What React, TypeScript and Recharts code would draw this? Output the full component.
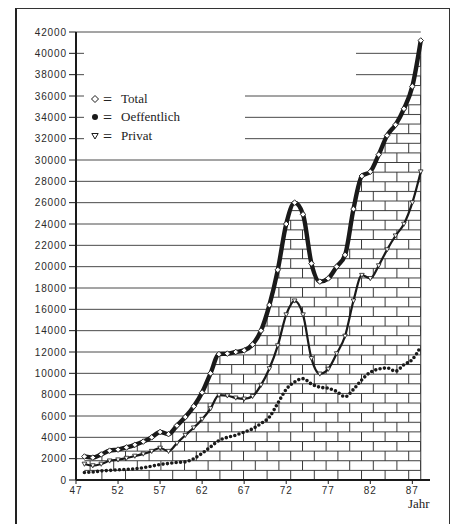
import React from 'react';
import {
  ComposedChart,
  Area,
  Line,
  XAxis,
  YAxis,
  CartesianGrid,
  ReferenceLine,
} from 'recharts';

// Jahre 1948-1988
const YEARS = [
  48, 49, 50, 51, 52, 53, 54, 55, 56, 57,
  58, 59, 60, 61, 62, 63, 64, 65, 66, 67,
  68, 69, 70, 71, 72, 73, 74, 75, 76, 77,
  78, 79, 80, 81, 82, 83, 84, 85, 86, 87, 88,
];

const TOTAL = [
  2200, 2100, 2400, 2750, 2850, 3050, 3300, 3600, 4000, 4500,
  4300, 5100, 5900, 6900, 8200, 10000, 11800, 11850, 12000, 12150,
  12700, 14000, 16400, 19700, 24000, 26000, 24900, 20300, 18600, 18900,
  20000, 21100, 25400, 28500, 28900, 30500, 32300, 33300, 34800, 36900, 41200,
];

const OEFF = [
  700, 750, 850, 900, 950, 1000, 1050, 1150, 1300, 1450,
  1550, 1650, 1700, 2000, 2500, 3100, 3700, 4000, 4200, 4500,
  4800, 5300, 5900, 7200, 8500, 9200, 9500, 9000, 8700, 8600,
  8300, 7800, 8500, 9400, 10100, 10400, 10500, 10200, 10800, 11300, 12500,
];

const PRIVAT = [
  1500, 1350, 1500, 1800, 1900, 2050, 2250, 2450, 2700, 3000,
  2700, 3450, 4200, 4900, 5700, 6700, 7950, 7900, 7700, 7600,
  7850, 8900, 10450, 12600, 15500, 16800, 15500, 11400, 9950, 10400,
  11850, 13500, 16800, 19200, 18900, 20100, 21600, 22900, 24000, 26000, 28900,
];

const X_TICKS = [47, 52, 57, 62, 67, 72, 77, 82, 87];
const Y_TICKS = [
  0, 2000, 4000, 6000, 8000, 10000, 12000, 14000, 16000, 18000, 20000,
  22000, 24000, 26000, 28000, 30000, 32000, 34000, 36000, 38000, 40000, 42000,
];
const SERIES_NAMES = ['Total', 'Oeffentlich', 'Privat'];
const X_LABEL = 'Jahr';

const X_MIN = 47;
const X_MAX = 89.1;
const Y_MAX = 42000;

const data = YEARS.map((year, i) => ({
  year,
  total: TOTAL[i],
  oeff: OEFF[i],
  privat: PRIVAT[i],
}));

const lastYear = YEARS[YEARS.length - 1];
const lastTotal = TOTAL[TOTAL.length - 1];

const ink = '#1a1a1a';
const gridInk = '#4a4a4a';
const numFont = { fontFamily: 'Liberation Sans, Arial, sans-serif', fontSize: 10, fill: '#2a2a2a', letterSpacing: 0.9 };
const serif = 'Liberation Serif, Times New Roman, serif';

const Diamond = (props: any) => {
  const { cx, cy, index } = props;
  if (cx == null || cy == null) return <g key={`d${index}`} />;
  const s = 2.8;
  return (
    <path
      key={`d${index}`}
      d={`M${cx},${cy - s}L${cx + s},${cy}L${cx},${cy + s}L${cx - s},${cy}Z`}
      fill="#fff"
      stroke={ink}
      strokeWidth={0.9}
    />
  );
};

const Tri = (props: any) => {
  const { cx, cy, index } = props;
  if (cx == null || cy == null) return <g key={`t${index}`} />;
  const s = 2.3;
  return (
    <path
      key={`t${index}`}
      d={`M${cx - s},${cy - s * 0.8}L${cx + s},${cy - s * 0.8}L${cx},${cy + s}Z`}
      fill="#fff"
      stroke={ink}
      strokeWidth={0.8}
    />
  );
};

// grid lines stop at the last year, like in the print
const gridLine = (p: any) => {
  const xEnd = p.x1 + ((p.x2 - p.x1) * (lastYear - X_MIN)) / (X_MAX - X_MIN);
  return (
    <line
      key={`g${p.index}`}
      x1={p.x1}
      y1={p.y1}
      x2={xEnd}
      y2={p.y2}
      stroke={gridInk}
      strokeWidth={1}
    />
  );
};

function LegendMark({ kind }: { kind: number }) {
  return (
    <svg width={10} height={10} style={{ position: 'absolute', left: 90, top: 3 }}>
      {kind === 0 && <path d="M5,1.5L8.5,5L5,8.5L1.5,5Z" fill="#fff" stroke={ink} strokeWidth={1} />}
      {kind === 1 && <circle cx={5} cy={5} r={3} fill={ink} />}
      {kind === 2 && <path d="M1.8,2.5L8.2,2.5L5,8Z" fill="#fff" stroke={ink} strokeWidth={1} />}
    </svg>
  );
}

export default function App() {
  const rowCenters = [99, 117, 136];
  return (
    <div style={{ position: 'absolute', left: 0, top: 0, width: 456, height: 524, background: '#fff', overflow: 'hidden' }}>
      {/* outer frame */}
      <div
        style={{
          position: 'absolute',
          left: 15,
          top: 8,
          width: 432,
          height: 540,
          borderLeft: '2px solid #222',
          borderTop: '1.5px solid #333',
          borderRight: '1.5px solid #333',
        }}
      />
      <div style={{ position: 'absolute', left: 0, top: 0 }}>
        <ComposedChart width={456} height={524} data={data} margin={{ top: 32, right: 26, bottom: 14, left: 16 }}>
          <defs>
            <pattern id="bricks" patternUnits="userSpaceOnUse" x={7} y={17.74} width={23.6} height={19.24}>
              <rect width={23.6} height={19.24} fill="#fff" />
              <line x1={0} y1={0.5} x2={23.6} y2={0.5} stroke="#3a3a3a" strokeWidth={1} />
              <line x1={0} y1={10.1} x2={23.6} y2={10.1} stroke="#3a3a3a" strokeWidth={1} />
              <line x1={12.3} y1={0} x2={12.3} y2={9.62} stroke="#3a3a3a" strokeWidth={1} />
              <line x1={0.5} y1={9.62} x2={0.5} y2={19.24} stroke="#3a3a3a" strokeWidth={1} />
            </pattern>
          </defs>
          <CartesianGrid vertical={false} horizontal={gridLine} />
          <XAxis
            dataKey="year"
            type="number"
            domain={[X_MIN, X_MAX]}
            ticks={X_TICKS}
            interval={0}
            allowDataOverflow
            height={30}
            tickSize={4}
            tickMargin={3}
            axisLine={{ stroke: ink, strokeWidth: 2 }}
            tickLine={{ stroke: ink }}
            tick={numFont}
          />
          <XAxis
            xAxisId="t"
            orientation="top"
            type="number"
            domain={[X_MIN, X_MAX]}
            height={0}
            tick={false}
            tickLine={false}
            axisLine={{ stroke: ink, strokeWidth: 2 }}
          />
          <YAxis
            domain={[0, Y_MAX]}
            ticks={Y_TICKS}
            interval={0}
            width={60}
            tickSize={7}
            tickMargin={2}
            axisLine={{ stroke: ink, strokeWidth: 2 }}
            tickLine={{ stroke: ink }}
            tick={numFont}
          />
          <YAxis
            yAxisId="r"
            orientation="right"
            mirror
            width={0}
            domain={[0, Y_MAX]}
            ticks={Y_TICKS}
            interval={0}
            tickSize={4}
            tick={() => <g />}
            axisLine={{ stroke: ink, strokeWidth: 2 }}
            tickLine={{ stroke: gridInk }}
          />
          <Area
            dataKey="total"
            type="monotone"
            stroke="none"
            fill="url(#bricks)"
            fillOpacity={1}
            dot={false}
            activeDot={false}
            isAnimationActive={false}
          />
          <ReferenceLine
            segment={[
              { x: lastYear, y: 0 },
              { x: lastYear, y: lastTotal },
            ]}
            stroke="#333"
            strokeWidth={1}
          />
          <Line
            dataKey="oeff"
            name={SERIES_NAMES[1]}
            type="monotone"
            stroke={ink}
            strokeWidth={3.6}
            strokeLinecap="round"
            strokeDasharray="0 4.4"
            dot={false}
            activeDot={false}
            isAnimationActive={false}
          />
          <Line
            dataKey="privat"
            name={SERIES_NAMES[2]}
            type="monotone"
            stroke={ink}
            strokeWidth={2.2}
            dot={Tri}
            activeDot={false}
            isAnimationActive={false}
          />
          <Line
            dataKey="total"
            name={SERIES_NAMES[0]}
            type="monotone"
            stroke={ink}
            strokeWidth={4.4}
            dot={Diamond}
            activeDot={false}
            isAnimationActive={false}
          />
        </ComposedChart>
      </div>

      {/* legend box covers the grid lines, as in the print */}
      <div style={{ position: 'absolute', left: 84, top: 34, width: 161, height: 116, background: '#fff' }}>
        {SERIES_NAMES.map((name, i) => (
          <div key={name} style={{ position: 'absolute', left: -84, top: rowCenters[i] - 34 - 8, height: 16, width: 245 }}>
            <LegendMark kind={i} />
            <span
              style={{
                position: 'absolute',
                left: 103,
                top: 1,
                fontFamily: serif,
                fontSize: 16,
                color: '#222',
                lineHeight: '16px',
              }}
            >
              =
            </span>
            <span
              style={{
                position: 'absolute',
                left: 121,
                top: 0,
                fontFamily: serif,
                fontSize: 13,
                color: '#222',
                lineHeight: '16px',
                whiteSpace: 'nowrap',
              }}
            >
              {name}
            </span>
          </div>
        ))}
      </div>
      <div style={{ position: 'absolute', left: 245, top: 34, width: 111, height: 52, background: '#fff' }} />

      <div
        style={{
          position: 'absolute',
          left: 408,
          top: 496,
          fontFamily: serif,
          fontSize: 13,
          color: '#222',
          lineHeight: '16px',
        }}
      >
        {X_LABEL}
      </div>
    </div>
  );
}
